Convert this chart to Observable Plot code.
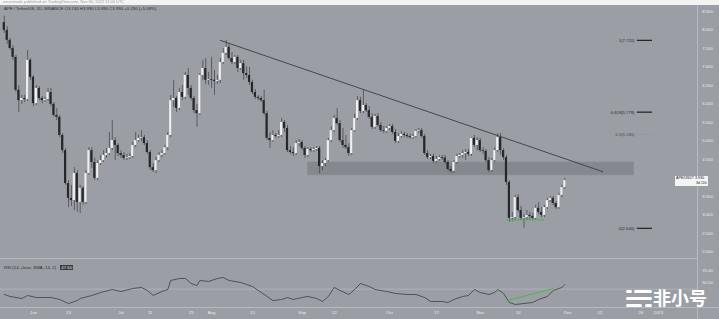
<!DOCTYPE html>
<html><head><meta charset="utf-8">
<script src="https://cdn.jsdelivr.net/npm/d3@7"></script>
<script src="https://cdn.jsdelivr.net/npm/@observablehq/plot@0.6"></script>
<style>
html,body{margin:0;padding:0;background:#9b9ea5;}
#wrap{position:relative;width:719px;height:319px;overflow:hidden;background:#9b9ea5;font-family:"Liberation Sans",Arial,sans-serif;}
.abs{position:absolute;}
#pub{left:0;top:0;width:719px;height:5px;background:#f3f3f3;overflow:hidden;}
#pub span{position:absolute;left:3px;top:0px;font-size:4px;line-height:4.5px;color:#a0a0a0;white-space:nowrap;}
#title{left:4px;top:6px;font-size:4.3px;color:#2c2e33;white-space:nowrap;}
#rsiLabel{left:4px;top:265px;font-size:4.3px;color:#2c2e33;white-space:nowrap;}
#rsiLabel b{font-weight:normal;background:#3a3c41;color:#e6e6e6;padding:0 1px;margin-left:3px;}
.sep{background:#b6b9bf;height:1px;}
#tag{background:#f4f4f4;color:#222;font-size:3.6px;line-height:5px;padding:0 1px;white-space:nowrap;}
#wm{left:653px;top:288px;font-family:"Noto Sans CJK SC",sans-serif;font-weight:700;font-size:18px;color:#ffffff;line-height:18px;height:18px;}
.pill{position:absolute;background:#ffffff;border-radius:2px;height:3px;}
</style></head>
<body><div id="wrap">
<div id="pub" class="abs"><span>ascentrade published on TradingView.com, Nov 30, 2022 11:06 UTC</span></div>
<div id="price" class="abs" style="left:0;top:5px;"></div>
<div id="rsi" class="abs" style="left:0;top:258px;"></div>
<div class="abs sep" style="left:0;top:258px;width:697px;"></div>
<div class="abs sep" style="left:0;top:307px;width:719px;"></div>
<div class="abs" style="left:697px;top:5px;width:1px;height:314px;background:#b6b9bf;"></div>
<div id="title" class="abs"></div>
<div id="rsiLabel" class="abs"></div>
<div id="tag" class="abs"></div>
<div class="pill" style="left:626px;top:290px;width:6px;"></div>
<div class="pill" style="left:634px;top:290px;width:18px;"></div>
<div class="pill" style="left:626px;top:297px;width:26px;"></div>
<div class="pill" style="left:626px;top:304px;width:16px;"></div>
<div class="pill" style="left:645px;top:304px;width:7px;"></div>
<div id="wm" class="abs">非小号</div>
</div>
<script>
// ---------- data ----------
const symbol = "APE / TetherUS, 1D, BINANCE";
const startDate = "2022-05-22"; // first daily candle
const opens = [8.20,7.99,7.72,7.50,7.26,6.37,6.09,6.15,6.12,7.18,
6.72,6.01,6.42,6.15,6.09,6.12,6.31,5.99,5.69,5.64,
5.15,4.74,3.85,3.45,3.39,4.12,3.34,3.72,3.34,4.12,
4.74,4.42,3.99,4.39,4.47,4.61,4.66,4.80,5.01,4.88,
4.66,4.61,4.53,4.55,4.58,4.88,5.01,5.07,5.09,4.93,
4.69,4.28,4.20,4.47,4.61,4.66,4.82,5.15,6.09,6.15,
5.88,6.31,6.18,6.77,6.42,6.15,5.82,5.74,6.77,6.96,
6.64,6.66,6.64,6.61,6.64,7.12,7.37,7.53,7.23,7.12,
7.26,6.96,7.09,6.82,6.77,6.58,6.31,6.18,6.15,6.09,
5.74,5.07,5.01,5.15,5.12,5.15,5.50,5.34,4.74,4.69,
4.66,4.93,4.96,4.80,4.61,4.77,4.74,4.77,4.80,4.31,
4.39,4.47,5.01,5.28,5.61,5.47,5.01,4.88,4.82,4.66,
5.28,5.61,6.09,5.80,5.96,5.82,5.64,5.37,5.66,5.42,
5.28,5.26,5.34,5.39,5.23,4.99,5.12,5.18,5.15,5.12,
5.09,5.12,5.26,5.28,5.12,4.66,4.55,4.58,4.45,4.50,
4.55,4.54,4.42,4.23,4.18,4.42,4.58,4.61,4.66,4.69,
4.64,5.07,4.88,5.01,4.74,4.72,4.47,4.20,4.47,4.74,
5.09,4.74,4.55,3.88,2.91,2.93,3.47,3.12,2.91,2.93,
2.99,2.96,2.91,3.18,3.07,2.99,3.20,3.39,3.45,3.31,
3.20,3.53,3.74];
const highs = [8.37,8.09,7.77,7.58,7.31,6.50,6.23,6.23,7.45,7.23,
6.77,6.50,6.47,6.20,6.18,6.42,6.42,6.04,5.88,5.69,
5.20,4.80,3.93,3.80,4.28,4.20,3.80,3.77,4.20,4.82,
4.82,4.53,4.47,4.61,4.74,4.80,5.23,5.55,5.09,4.93,
4.74,4.69,4.64,4.66,4.96,5.23,5.15,5.28,5.15,5.01,
4.74,4.39,4.55,4.69,4.74,4.88,5.23,6.23,6.64,6.20,
6.42,6.50,6.85,6.96,6.50,6.20,5.99,6.82,7.18,7.23,
6.85,7.26,6.91,6.77,7.23,7.50,7.72,7.61,7.39,7.31,
7.31,7.18,7.18,7.01,6.99,6.64,6.39,6.23,6.20,6.37,
5.80,5.23,5.28,5.20,5.28,5.61,5.55,5.42,4.85,4.82,
5.01,5.04,5.01,4.85,4.82,4.82,4.82,4.85,4.85,4.47,
4.53,5.07,5.39,5.69,5.88,5.55,5.34,5.15,4.93,5.34,
5.72,6.20,6.18,6.39,6.01,5.93,5.74,5.72,5.74,5.50,
5.39,5.39,5.45,5.45,5.31,5.20,5.26,5.23,5.20,5.18,
5.18,5.31,5.34,5.34,5.18,4.74,4.64,4.64,4.58,4.61,
4.61,4.61,4.47,4.31,4.47,4.64,4.66,4.74,4.77,4.77,
5.09,5.15,5.09,5.07,4.82,4.77,4.55,4.53,4.82,5.20,
5.20,4.80,4.61,3.93,3.07,3.53,3.55,3.23,3.01,3.12,
3.07,3.04,3.26,3.34,3.20,3.26,3.45,3.50,3.50,3.36,
3.58,3.80,3.99];
const lows = [7.91,7.61,7.45,7.18,6.31,5.77,5.99,6.04,6.07,6.64,
5.93,5.96,6.09,6.01,6.04,6.07,5.93,5.64,5.55,5.09,
4.66,3.80,3.20,3.23,3.12,3.07,3.04,3.26,3.28,4.07,
4.26,3.93,3.93,4.34,4.42,4.53,4.61,4.74,4.47,4.58,
4.53,4.47,4.47,4.50,4.53,4.82,4.96,4.99,4.88,4.64,
4.20,4.15,4.12,4.42,4.55,4.61,4.74,5.09,5.91,5.77,
5.82,6.09,6.12,6.23,6.09,5.74,5.37,5.69,6.64,6.53,
6.50,6.42,6.23,6.53,6.55,7.07,7.31,7.18,7.07,7.07,
6.85,6.91,6.64,6.69,6.50,6.26,6.12,6.09,6.04,5.69,
5.01,4.80,4.96,5.07,5.07,5.09,5.23,4.69,4.64,4.58,
4.61,4.85,4.74,4.53,4.55,4.69,4.69,4.72,4.12,4.20,
4.31,4.42,4.96,5.23,5.42,4.96,4.80,4.77,4.58,4.61,
5.23,5.55,5.74,5.74,5.77,5.58,5.31,5.31,5.37,5.23,
5.20,5.20,5.28,5.18,4.93,4.93,5.07,5.09,5.07,5.04,
5.04,5.07,5.20,5.07,4.61,4.50,4.50,4.39,4.39,4.45,
4.47,4.37,4.18,4.12,4.12,4.37,4.53,4.53,4.47,4.58,
4.58,4.82,4.74,4.69,4.64,4.42,4.15,4.15,4.42,4.69,
4.61,4.47,3.80,2.80,2.82,2.85,3.07,2.85,2.64,2.85,
2.88,2.85,2.85,3.01,2.93,2.93,3.15,3.34,3.26,3.15,
3.15,3.47,3.69];
const closes = [7.99,7.72,7.50,7.26,6.37,6.09,6.15,6.12,7.18,6.72,
6.01,6.42,6.15,6.09,6.12,6.31,5.99,5.69,5.64,5.15,
4.74,3.85,3.45,3.39,4.12,3.34,3.72,3.34,4.12,4.74,
4.42,3.99,4.39,4.47,4.61,4.66,4.80,5.01,4.88,4.66,
4.61,4.53,4.55,4.58,4.88,5.01,5.07,5.09,4.93,4.69,
4.28,4.20,4.47,4.61,4.66,4.82,5.15,6.09,6.15,5.88,
6.31,6.18,6.77,6.42,6.15,5.82,5.74,6.77,6.96,6.64,
6.66,6.64,6.61,6.64,7.12,7.37,7.53,7.23,7.12,7.26,
6.96,7.09,6.82,6.77,6.58,6.31,6.18,6.15,6.09,5.74,
5.07,5.01,5.15,5.12,5.15,5.50,5.34,4.74,4.69,4.66,
4.93,4.96,4.80,4.61,4.77,4.74,4.77,4.80,4.31,4.39,
4.47,5.01,5.28,5.61,5.47,5.01,4.88,4.82,4.66,5.28,
5.61,6.09,5.80,5.96,5.82,5.64,5.37,5.66,5.42,5.28,
5.26,5.34,5.39,5.23,4.99,5.12,5.18,5.15,5.12,5.09,
5.12,5.26,5.28,5.12,4.66,4.55,4.58,4.45,4.50,4.55,
4.54,4.42,4.23,4.18,4.42,4.58,4.61,4.66,4.69,4.64,
5.07,4.88,5.01,4.74,4.72,4.47,4.20,4.47,4.74,5.09,
4.74,4.55,3.88,2.91,2.93,3.47,3.12,2.91,2.93,2.99,
2.96,2.91,3.18,3.07,2.99,3.20,3.39,3.45,3.31,3.20,
3.53,3.74,3.93];

// RSI (14) sampled along the line: day offset from startDate, value
const rsiDay = [0,2,6,8,11,16,19,22,25,26,30,33,37,40,44,47,49,51,54,56,57,60,62,64,66,67,70,73,75,77,79,81,85,87,90,92,95,97,99,102,104,107,109,111,113,115,118,120,122,125,127,131,134,138,141,144,146,150,152,154,157,159,161,163,166,168,169,171,173,175,178,181,183,186,188,191,192];
const rsiValue = [31.2,28.0,24.7,29.6,26.3,26.3,23.1,16.5,21.4,24.7,29.6,34.5,39.4,36.1,41.0,42.7,37.8,29.6,36.1,39.4,54.1,57.4,57.4,49.2,45.9,54.1,52.5,57.4,59.0,54.1,52.5,50.8,44.3,37.8,28.0,21.4,23.1,26.3,23.1,26.3,28.0,24.7,19.8,28.0,42.7,37.8,31.2,39.4,49.2,44.3,39.4,36.1,32.9,31.2,31.2,26.3,19.8,19.8,18.2,23.1,28.0,29.6,39.4,34.5,31.2,34.5,39.4,32.9,18.2,14.9,16.5,18.2,23.1,28.0,37.8,42.7,47.6];
const rsiLevels = [40];
const rsiTicks = [70, 50];

// drawings
const trendDates = ["2022-08-04", "2022-12-13"];
const trendPrices = [7.72, 4.17];
const zoneDates = ["2022-09-03", "2022-12-23T18:00Z"];
const zonePrices = [4.07, 4.42];
const fibLow = 2.64, fibHigh = 7.72;
const fibLevels = [1, 0.618, 0.5, 0];
const fibLineDates = ["2022-12-24T20:00Z", "2022-12-30T00:00Z"];
const fibLabelDate = "2022-12-23T20:00Z";
const supportDates = ["2022-11-10", "2022-11-23"];
const supportPrice = 2.87;
const rsiDivDates = ["2022-11-10", "2022-11-26"];
const rsiDivValues = [21.0, 41.0];

// axes (4.000 sits under the last-price tag)
const priceTicks = [2.0,2.5,3.0,3.5,4.5,5.0,5.5,6.0,6.5,7.0,7.5,8.0,8.5];
const xTickDates = ["2022-06-01","2022-06-13","2022-07-01","2022-07-11","2022-07-25","2022-08-01","2022-08-15","2022-09-01","2022-09-12","2022-10-01","2022-10-17","2022-11-01","2022-11-14","2022-12-01","2022-12-12","2022-12-26","2023-01-01"];
const xTickLabels = ["Jun","13","Jul","11","25","Aug","15","Sep","12","Oct","17","Nov","14","Dec","12","26","2023"];

// ---------- build ----------
const t0 = new Date(startDate);
const candles = closes.map((c, i) => ({date: d3.utcDay.offset(t0, i), open: opens[i], high: highs[i], low: lows[i], close: c}));
const rsiPts = rsiDay.map((d, i) => ({date: d3.utcDay.offset(t0, d), value: rsiValue[i]}));
const fibs = fibLevels.map(l => ({level: l, price: fibLow + l * (fibHigh - fibLow)}));
const xTicks = xTickDates.map((d, i) => ({date: new Date(d), label: xTickLabels[i]}));
const xDomain = [new Date(Date.UTC(2022, 4, 20, 17)), new Date(Date.UTC(2023, 0, 14, 10))];
const axisColor = "#eceef1";
const FONT = "Liberation Sans, Arial, sans-serif";

const pricePlot = Plot.plot({
  width: 719, height: 253,
  marginLeft: 0, marginRight: 22, marginTop: 0, marginBottom: 0,
  x: {type: "utc", domain: xDomain, axis: null},
  y: {domain: [1.824, 8.662], axis: null},
  style: {background: "transparent", fontFamily: FONT},
  marks: [
    Plot.rect([0], {x1: () => new Date(zoneDates[0]), x2: () => new Date(zoneDates[1]), y1: () => zonePrices[0], y2: () => zonePrices[1], fill: "#7f828a", fillOpacity: 0.8, stroke: "#8b8e95", strokeWidth: 0.6}),
    Plot.ruleX(candles, {x: "date", y1: "low", y2: "high", stroke: "#3e4046", strokeWidth: 0.7}),
    Plot.rect(candles, {
      x1: d => d3.utcHour.offset(d.date, -9), x2: d => d3.utcHour.offset(d.date, 9),
      y1: "open", y2: d => (Math.abs(d.close - d.open) < 0.02 ? d.open + (d.close >= d.open ? 0.02 : -0.02) : d.close),
      fill: d => d.close >= d.open ? "#efefef" : "#25272b"
    }),
    Plot.line(trendDates.map((d, i) => ({date: new Date(d), price: trendPrices[i]})), {x: "date", y: "price", stroke: "#3b3d42", strokeWidth: 0.9}),
    Plot.ruleY(fibs.filter(f => f.level !== 0.5), {y: "price", x1: () => new Date(fibLineDates[0]), x2: () => new Date(fibLineDates[1]), stroke: "#1f2024", strokeWidth: 1.2}),
    Plot.ruleY(fibs.filter(f => f.level === 0.5), {y: "price", x1: () => new Date(fibLineDates[0]), x2: () => new Date(fibLineDates[1]), stroke: "#8e9197", strokeWidth: 0.8, strokeDasharray: "1,1"}),
    Plot.text(fibs, {x: () => new Date(fibLabelDate), y: "price", text: f => `${f.level}(${f.price.toFixed(3)})`, textAnchor: "end", fill: f => f.level === 0.5 ? "#4c4e54" : "#2a2c31", fontSize: 4.2}),
    Plot.ruleY([supportPrice], {x1: () => new Date(supportDates[0]), x2: () => new Date(supportDates[1]), stroke: "#4fb34f", strokeWidth: 1}),
    Plot.text(priceTicks, {y: d => d, text: d => d.toFixed(3), frameAnchor: "right", dx: 10, textAnchor: "middle", fill: axisColor, fontSize: 4.3})
  ]
});
document.getElementById("price").appendChild(pricePlot);

const rsiPlot = Plot.plot({
  width: 719, height: 61,
  marginLeft: 0, marginRight: 22, marginTop: 0, marginBottom: 12,
  x: {type: "utc", domain: xDomain, axis: null},
  y: {domain: [10, 90], axis: null},
  style: {background: "transparent", fontFamily: FONT},
  marks: [
    Plot.ruleY(rsiLevels, {stroke: "#b3b6bc", strokeWidth: 0.8}),
    Plot.line(rsiPts, {x: "date", y: "value", stroke: "#3d3f45", strokeWidth: 0.8}),
    Plot.line(rsiDivDates.map((d, i) => ({date: new Date(d), value: rsiDivValues[i]})), {x: "date", y: "value", stroke: "#4fb34f", strokeWidth: 1}),
    Plot.text(rsiTicks, {y: d => d, text: d => d.toFixed(2), frameAnchor: "right", dx: 10, textAnchor: "middle", fill: axisColor, fontSize: 4.3}),
    Plot.text(xTicks, {x: "date", text: "label", frameAnchor: "bottom", dy: 6, fill: axisColor, fontSize: 4.3})
  ]
});
document.getElementById("rsi").appendChild(rsiPlot);

// header texts
const last = candles[candles.length - 1];
const prev = candles[candles.length - 2];
const chg = last.close - prev.close;
document.getElementById("title").textContent =
  `${symbol}   O${last.open.toFixed(3)}  H${last.high.toFixed(3)}  L${last.low.toFixed(3)}  C${last.close.toFixed(3)}  ${chg >= 0 ? "+" : ""}${chg.toFixed(3)} (${chg >= 0 ? "+" : ""}${(chg / prev.close * 100).toFixed(2)}%)`;
document.getElementById("rsiLabel").innerHTML = `RSI (14, close, SMA, 14, 2) <b>${rsiValue[rsiValue.length - 1].toFixed(2)}</b>`;

// last price tag on the axis
const ty = 5 + pricePlot.scale("y").apply(last.close);
const tag = document.getElementById("tag");
tag.innerHTML = `APE/USDT ${last.close.toFixed(3)}<br><span style="margin-left:20px">3d 11h</span>`;
tag.style.left = "675px";
tag.style.top = (ty - 4) + "px";
</script>
</body></html>
